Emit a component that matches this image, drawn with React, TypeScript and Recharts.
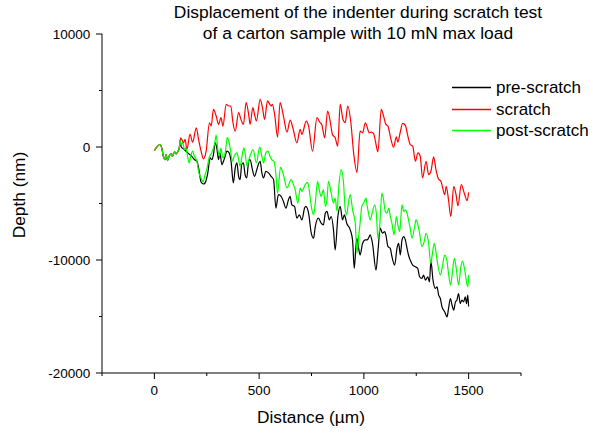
import { Label, Legend, Line, LineChart, XAxis, YAxis } from "recharts";

// all three curves share the first ~120 µm
const startDistance = [0, 27, 35, 43, 51, 56, 63, 70, 80, 86, 96, 104, 111, 119, 123];
const startDepth = [-300, 222, -74, -815, -1111, -667, -1200, -815, -607, -815, -430, -607, -430, -74, 560];

const preScratchDistance = [
  128, 143, 159, 178, 191, 203, 211, 223, 234, 242, 255, 266, 274, 282, 290, 298, 306, 313, 322, 330,
  338, 346, 357, 366, 377, 386, 394, 402, 409, 417, 425, 433, 441, 450, 457, 468, 478, 489, 497, 505,
  513, 521, 532, 545, 557, 569, 580, 592, 605, 616, 628, 640, 648, 656, 669, 680, 692, 704, 717, 723,
  736, 749, 760, 768, 783, 796, 807, 816, 824, 835, 844, 855, 863, 876, 887, 898, 907, 918, 935, 946,
  954, 962, 967, 975, 982, 994, 1007, 1015, 1022, 1030, 1041, 1058, 1067, 1078, 1089, 1099, 1105, 1115, 1126, 1134,
  1147, 1158, 1166, 1174, 1182, 1190, 1198, 1206, 1213, 1221, 1233, 1246, 1257, 1266, 1277, 1285, 1294, 1305, 1313, 1320,
  1330, 1341, 1349, 1357, 1365, 1373, 1386, 1397, 1404, 1413, 1421, 1429, 1437, 1444, 1452, 1460, 1468, 1476, 1484, 1490,
  1496, 1500,
];
const preScratchDepth = [
  0, -222, -519, -815, -1111, -1259, -1852, -3097, -3274, -3186, -2296, -963, -1111, -667, 370, -74, -1111, -519, -1556, -1259,
  -815, -370, -519, -1259, -3186, -1852, -1408, -2593, -2889, -1556, -1408, -2445, -2741, -1259, -1111, -2000, -2593, -2000, -1500, -1259,
  -2296, -2741, -2148, -2296, -2593, -2889, -5408, -4223, -4371, -4815, -5408, -4667, -4371, -5112, -5260, -6297, -6001, -6445, -5408, -5260,
  -5853, -7631, -8075, -7038, -6297, -6742, -6890, -5853, -5704, -6445, -6149, -7334, -9112, -6149, -5260, -6445, -6001, -6742, -7334, -8223,
  -10742, -8816, -8075, -8964, -9557, -8520, -8223, -8223, -8075, -7779, -8520, -10890, -9260, -7186, -7631, -7482, -7779, -8816, -8964, -9705,
  -10446, -8964, -8520, -9557, -8223, -7927, -8223, -8964, -9557, -10001, -10446, -10594, -10742, -11483, -11631, -11335, -11779, -11483, -11927, -10100,
  -11779, -12520, -12372, -13113, -13409, -14150, -14594, -15039, -14298, -13409, -14002, -14446, -13705, -13557, -12964, -13853, -13557, -13705, -13261, -13853,
  -13113, -14112,
];

const scratchDistance = [
  126, 139, 147, 155, 170, 183, 200, 211, 223, 234, 247, 263, 271, 282, 295, 306, 318, 327, 343, 354,
  365, 374, 386, 402, 413, 425, 438, 450, 457, 470, 479, 487, 505, 516, 526, 540, 551, 557, 563, 574,
  588, 600, 616, 633, 648, 661, 680, 696, 704, 725, 736, 755, 776, 791, 799, 813, 827, 839, 850, 863,
  875, 887, 900, 911, 923, 938, 951, 967, 982, 994, 1007, 1026, 1035, 1046, 1055, 1067, 1083, 1094, 1105, 1115,
  1126, 1142, 1155, 1162, 1173, 1185, 1198, 1210, 1221, 1233, 1246, 1258, 1269, 1280, 1297, 1309, 1320, 1333, 1344, 1356,
  1368, 1376, 1386, 1393, 1404, 1415, 1429, 1440, 1449, 1465, 1480, 1493, 1500,
];
const scratchDepth = [
  815, 370, 667, -222, 1111, 430, 1704, 667, -370, -1052, -370, 2148, 1852, 3334, 2741, 2000, 2593, 1852, 3778, 3630,
  3630, 2296, 1408, 3037, 2445, 2000, 3926, 2889, 2000, 3482, 2800, 2300, 4223, 3482, 2445, 4075, 3778, 3630, 3778, 2889,
  874, 3926, 2741, 1319, 2385, 1704, 370, 1556, 1111, 2296, 1852, -370, 2593, 2148, 2000, 815, 3185, 2296, 1111, 815,
  74, 3778, 2445, 2148, 3630, 2148, -519, -2237, 1408, 1259, 2148, 1259, 1319, 1200, 519, -430, 3334, 2741, 2000, 1852,
  963, -15, 904, 430, 1259, 2089, 1911, 963, 222, 74, -1259, -519, -815, -2741, -1259, -2445, -2148, -874, -2000, -2830,
  -3037, -3630, -4223, -3482, -4667, -6149, -3482, -4223, -5201, -3334, -4134, -4756, -4015,
];

const postScratchDistance = [
  127, 135, 144, 150, 160, 166, 175, 183, 191, 203, 211, 226, 232, 242, 250, 261, 274, 287, 295, 302,
  310, 318, 326, 338, 348, 354, 363, 372, 381, 394, 402, 409, 417, 427, 433, 442, 453, 462, 471, 487,
  503, 513, 521, 532, 542, 552, 560, 571, 580, 588, 602, 616, 633, 653, 664, 672, 685, 696, 704, 720,
  731, 739, 749, 760, 768, 779, 787, 796, 807, 816, 824, 831, 844, 855, 863, 872, 879, 892, 903, 911,
  918, 926, 935, 946, 959, 967, 975, 982, 990, 999, 1010, 1015, 1022, 1030, 1041, 1052, 1060, 1067, 1075, 1086,
  1094, 1102, 1110, 1119, 1126, 1134, 1144, 1155, 1162, 1171, 1182, 1190, 1198, 1206, 1213, 1221, 1230, 1241, 1249, 1258,
  1266, 1277, 1288, 1297, 1309, 1319, 1325, 1336, 1344, 1353, 1365, 1376, 1386, 1397, 1404, 1414, 1421, 1432, 1441, 1452,
  1463, 1471, 1480, 1493, 1497, 1500,
];
const postScratchDepth = [
  222, 370, -222, -74, -963, -1408, -667, -370, -815, -1259, -2148, -2889, -3097, -2445, -2000, -963, -519, 222, 1052, -74,
  -815, -100, -963, -519, 850, 600, -222, -1259, -815, -519, -1100, -1704, -963, -74, -519, -1704, -1000, -519, -222, -1400,
  0, -815, -1408, -519, -370, -815, -1111, -1259, -2400, -4100, -1800, -2445, -3630, -2889, -3334, -3778, -4964, -3630, -3926, -3334,
  -3126, -3778, -5260, -6001, -4964, -3037, -3778, -4371, -3778, -5260, -4667, -3037, -4075, -4964, -4519, -5704, -3778, -2000, -3185, -5556,
  -6001, -4964, -4223, -5556, -6742, -9408, -7927, -6742, -5260, -4964, -4519, -5112, -5853, -6445, -5704, -5112, -6001, -8075, -7186, -4075,
  -4667, -5704, -5853, -5408, -6149, -6742, -7779, -6149, -6890, -7482, -5112, -5704, -5556, -5853, -6445, -7186, -8075, -7186, -6445, -6890,
  -7631, -8816, -8371, -7631, -8520, -10297, -9705, -8520, -9260, -10446, -11335, -10446, -9557, -10149, -11186, -12224, -11335, -9853, -10742, -12224,
  -10594, -10090, -10742, -12224, -12372, -11335,
];

const xTicks = [-250, 0, 250, 500, 750, 1000, 1250, 1500, 1750];
const yTicks = [-20000, -15000, -10000, -5000, 0, 5000, 10000];

const seriesNames = ["pre-scratch", "scratch", "post-scratch"];
const seriesColors = ["#000000", "#ff0000", "#00ff00"];

function toPoints(distance: number[], depth: number[]) {
  const xs = [...startDistance, ...distance];
  const ys = [...startDepth, ...depth];
  return xs.map((x, i) => ({ distance: x, depth: ys[i] }));
}

const series = [
  toPoints(preScratchDistance, preScratchDepth),
  toPoints(scratchDistance, scratchDepth),
  toPoints(postScratchDistance, postScratchDepth),
];

function XTick(props: any) {
  const { x, y, payload } = props;
  const major = payload.value % 500 === 0;
  return (
    <g>
      <line x1={x} x2={x} y1={y} y2={y + (major ? 6 : 3)} stroke="#000" />
      {major && (
        <text x={x} y={y + 22.4} textAnchor="middle" fontSize={13.5} fill="#000">
          {payload.value}
        </text>
      )}
    </g>
  );
}

function YTick(props: any) {
  const { x, y, payload } = props;
  const major = payload.value % 10000 === 0;
  return (
    <g>
      <line x1={x - (major ? 6 : 3)} x2={x} y1={y} y2={y} stroke="#000" />
      {major && (
        <text x={x - 11.7} y={y + 4.8} textAnchor="end" fontSize={13.5} fill="#000">
          {payload.value}
        </text>
      )}
    </g>
  );
}

function LegendBox() {
  return (
    <div style={{ fontSize: 17, lineHeight: "21.5px", color: "#000", whiteSpace: "nowrap" }}>
      {seriesNames.map((name, i) => (
        <div key={name} style={{ display: "flex", alignItems: "center", height: 21.5 }}>
          <svg width={39} height={3} style={{ marginRight: 5 }}>
            <line x1={0} x2={39} y1={1.5} y2={1.5} stroke={seriesColors[i]} strokeWidth={1.3} />
          </svg>
          <span>{name}</span>
        </div>
      ))}
    </div>
  );
}

export default function App() {
  return (
    <div
      style={{
        position: "absolute",
        left: 0,
        top: 0,
        width: 593,
        height: 434,
        background: "#fff",
        fontFamily: "'Liberation Sans', Arial, sans-serif",
      }}
    >
      <div
        style={{
          position: "absolute",
          left: 158,
          top: 2,
          width: 400,
          textAlign: "center",
          fontSize: 17.4,
          lineHeight: "20.7px",
          color: "#000",
        }}
      >
        Displacement of the indenter during scratch test
        <br />
        of a carton sample with 10 mN max load
      </div>
      <LineChart width={593} height={434} margin={{ top: 34, right: 72, bottom: 0, left: 0 }}>
        <XAxis
          type="number"
          dataKey="distance"
          domain={[-250, 1750]}
          ticks={xTicks}
          interval={0}
          height={61}
          tickSize={0}
          tickMargin={0}
          tickLine={false}
          tick={<XTick />}
          stroke="#000"
        >
          <Label
            content={() => (
              <text x={311} y={423} textAnchor="middle" fontSize={17.3} fill="#000">
                Distance (µm)
              </text>
            )}
          />
        </XAxis>
        <YAxis
          type="number"
          dataKey="depth"
          domain={[-20000, 10000]}
          ticks={yTicks}
          interval={0}
          width={102}
          tickSize={0}
          tickMargin={0}
          tickLine={false}
          tick={<YTick />}
          stroke="#000"
        >
          <Label
            content={() => (
              <text transform="translate(24.7,195) rotate(-90)" textAnchor="middle" fontSize={17.3} fill="#000">
                Depth (nm)
              </text>
            )}
          />
        </YAxis>
        <Legend
          layout="vertical"
          align="center"
          verticalAlign="middle"
          content={() => <LegendBox />}
          wrapperStyle={{ left: 452, top: 77, width: 141 }}
        />
        {series.map((data, i) => (
          <Line
            key={seriesNames[i]}
            data={data}
            dataKey="depth"
            name={seriesNames[i]}
            type="monotone"
            stroke={seriesColors[i]}
            strokeWidth={1.2}
            dot={false}
            activeDot={false}
            isAnimationActive={false}
          />
        ))}
      </LineChart>
    </div>
  );
}
